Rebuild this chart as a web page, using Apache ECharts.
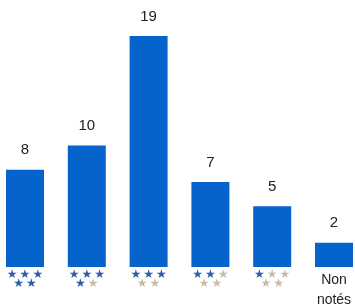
<!DOCTYPE html>
<html><head><meta charset="utf-8">
<script src="https://cdn.jsdelivr.net/npm/echarts@6/dist/echarts.min.js"></script>
<style>html,body{margin:0;padding:0;background:#fff}#c{width:355px;height:304px}</style>
</head><body><div id="c"></div>
<script>
const categories = ['5', '4', '3', '2', '1', 'Non notés'];
const values = [8, 10, 19, 7, 5, 2];
const filledStars = [5, 4, 3, 2, 1, null];

function starLabel(n) {
  if (n === null) return 'Non\nnotés';
  const s = [];
  for (let i = 0; i < 5; i++) s.push(i < n ? '{b|★}' : '{g|★}');
  return s.slice(0, 3).join('') + '\n' + s.slice(3).join('');
}

const chart = echarts.init(document.getElementById('c'));
chart.setOption({
  animation: false,
  grid: { left: 25, right: 21, top: 36, bottom: 37, outerBoundsMode: 'none', containLabel: false },
  xAxis: {
    type: 'category',
    data: categories,
    boundaryGap: false,
    axisLine: { show: false },
    axisTick: { show: false },
    axisLabel: {
      interval: 0,
      margin: 3,
      fontFamily: 'Liberation Sans, Arial, sans-serif',
      fontSize: 14,
      color: '#222',
      lineHeight: 20,
      formatter: function (v, idx) { return starLabel(filledStars[idx]); },
      rich: {
        b: { color: '#2b5ea6', fontSize: 12, lineHeight: 9, padding: [0, 1], fontFamily: 'DejaVu Sans' },
        g: { color: '#c8bca9', fontSize: 12, lineHeight: 9, padding: [0, 1], fontFamily: 'DejaVu Sans' }
      }
    }
  },
  yAxis: { type: 'value', min: 0, max: 19, show: false, splitLine: { show: false } },
  series: [{
    type: 'bar',
    data: values,
    barWidth: 38,
    itemStyle: { color: '#0564cc' },
    label: {
      show: true,
      position: 'top',
      distance: 12,
      fontFamily: 'Liberation Sans, Arial, sans-serif',
      fontSize: 15,
      color: '#222'
    }
  }]
});
</script></body></html>
